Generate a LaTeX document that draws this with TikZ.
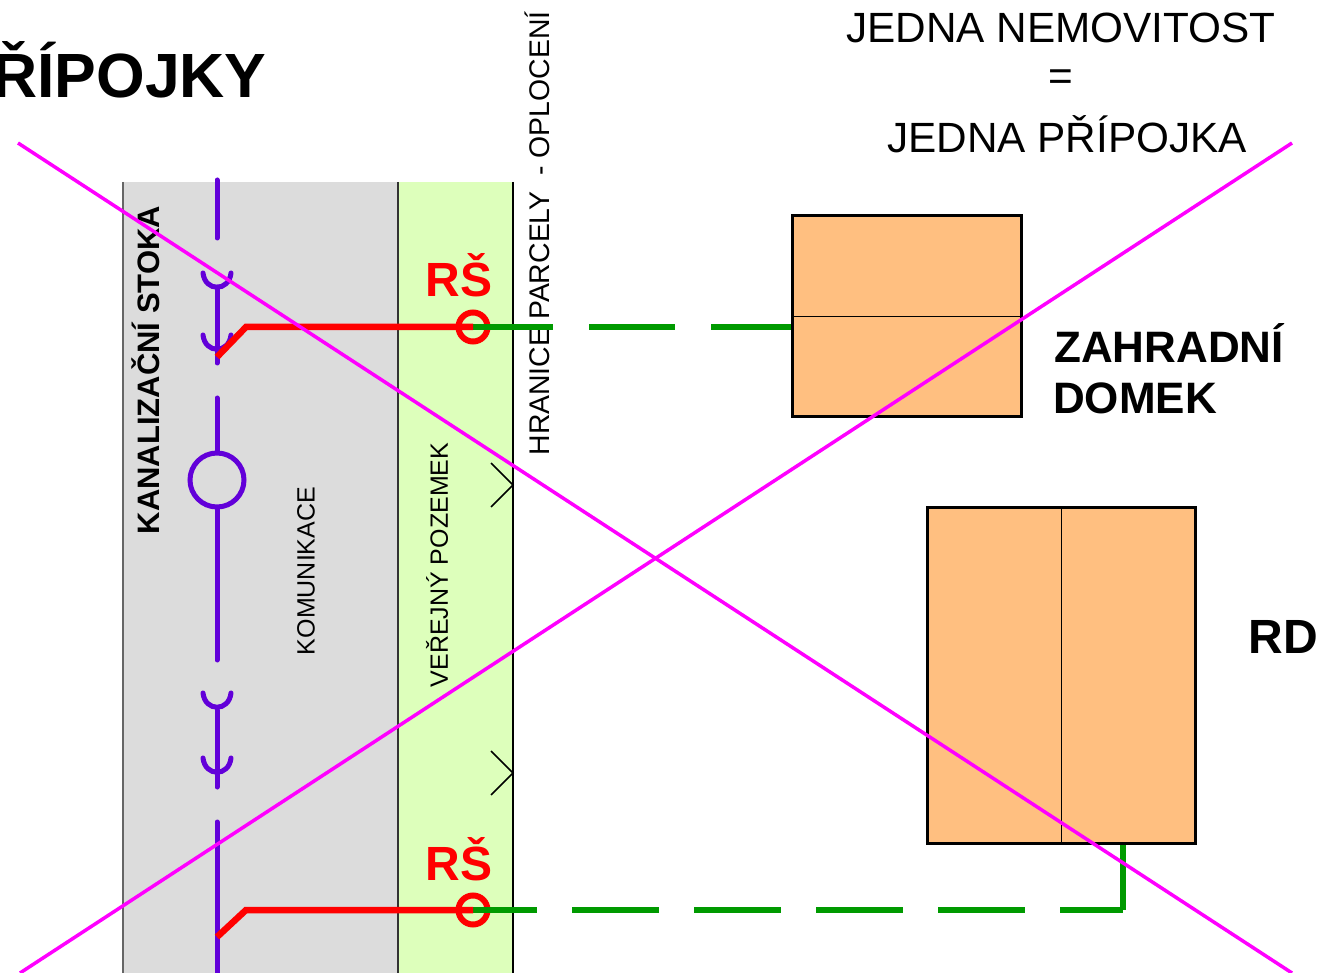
\documentclass[tikz,border=0pt]{standalone}
\usepackage{fontspec}
\setmainfont{Liberation Sans}
\usepackage{tikz}
\usetikzlibrary{positioning}
\definecolor{stokacolor}{HTML}{6200D9}
\definecolor{zelenacolor}{HTML}{DDFFBB}
\definecolor{sedacolor}{HTML}{DCDCDC}
\definecolor{domcolor}{HTML}{FFBF80}
\definecolor{pripojkacolor}{HTML}{009A00}
\definecolor{krizcolor}{HTML}{FF00FF}
\tikzset{
  stoka/.style={draw=stokacolor, line width=5pt, line cap=round},
  hrdlo/.style={draw=stokacolor, line width=5pt, line cap=round},
  cervena/.style={draw=red, line width=6.5pt},
  zelena/.style={draw=pripojkacolor, line width=6pt},
  krizek/.style={draw=krizcolor, line width=3.5pt},
  dum/.style={draw=black, line width=3pt, fill=domcolor},
  popis/.style={inner sep=0pt, text=black},
}
\begin{document}
\begin{tikzpicture}[x=1pt, y=-1pt]
    \useasboundingbox (0,0) rectangle (1318,973);
    % pasy
    \fill[sedacolor] (123,182) rectangle (398,973);
    \fill[zelenacolor] (398,182) rectangle (513,973);
    \draw[black!60, line width=1.5pt] (123,182) -- (123,973);
    \draw[black!80, line width=1.5pt] (398,182) -- (398,973);
    \draw[black, line width=2.5pt] (513,182) -- (513,973);
    % popisy
    \node[popis, font=\bfseries\fontsize{62.5}{62.5}\selectfont, anchor=west] (nadpis) at (-8,70) {ŘÍPOJKY};
    \node[popis, font=\fontsize{42.3}{42.3}\selectfont] (nemovitost) at (1061,28) {JEDNA NEMOVITOST};
    \node[popis, font=\fontsize{42.3}{42.3}\selectfont] (rovno) at (1061,80) {=};
    \node[popis, font=\fontsize{42.3}{42.3}\selectfont] (pripojka) at (1067,134) {JEDNA PŘÍPOJKA};
    \node[popis, font=\bfseries\fontsize{31}{31}\selectfont, rotate=90] (stokatext) at (146,370) {KANALIZAČNÍ STOKA};
    \node[popis, font=\fontsize{25}{25}\selectfont, rotate=90] (komunikace) at (306,571) {KOMUNIKACE};
    \node[popis, font=\fontsize{25}{25}\selectfont, rotate=90] (pozemek) at (437,565) {VEŘEJNÝ POZEMEK};
    \node[popis, font=\fontsize{28.4}{28.4}\selectfont, rotate=90] (hranice) at (537,233.5) {HRANICE PARCELY\ \ - OPLOCENÍ};
    \foreach \name/\y in {rsa/275, rsb/859} {
      \node[popis, font=\bfseries\fontsize{48}{48}\selectfont, text=red] (\name) at (459,\y) {RŠ};
    }
    \node[popis, font=\bfseries\fontsize{44}{44}\selectfont, anchor=west] (zahradni) at (1054,343) {ZAHRADNÍ};
    \node[popis, font=\bfseries\fontsize{44}{44}\selectfont, anchor=west] (domek) at (1053,398) {DOMEK};
    \node[popis, font=\bfseries\fontsize{48}{48}\selectfont] (rd) at (1283,637) {RD};
    % stoka
    \foreach \a/\b in {180/238, 287/363, 398/452, 508/660, 710/787, 822/973} {
      \draw[stoka] (217,\a) -- (217,\b);
    }
    \foreach \y in {273, 335, 693, 758} {
      \draw[hrdlo] (203,\y) .. controls (205,\y+19) and (229,\y+19) .. (231,\y);
    }
    \node[circle, draw=stokacolor, line width=5pt, minimum size=54pt, inner sep=0pt] (sachta) at (217,480) {};
    % domy
    \node[dum, anchor=north west, minimum width=229pt, minimum height=201pt, inner sep=0pt] (domekbox) at (791,214.5) {};
    \draw[black, line width=1pt] (domekbox.west) -- (domekbox.east);
    \node[dum, anchor=north west, minimum width=268pt, minimum height=335pt, inner sep=0pt] (rdbox) at (926,506.5) {};
    \draw[black, line width=1pt] (rdbox.north) -- (rdbox.south);
    % pripojky
    \node[circle, draw=red, line width=6pt, minimum size=29pt, inner sep=0pt] (sachtaa) at (473,327) {};
    \node[circle, draw=red, line width=6pt, minimum size=29pt, inner sep=0pt] (sachtab) at (473,910) {};
    \coordinate (napojrd) at (1123,910);
    \draw[zelena, dash pattern=on 80pt off 36pt on 86pt off 36pt] (sachtaa.center) -- (domekbox.west |- sachtaa.center);
    \draw[zelena, dash pattern=on 64pt off 35pt on 87pt off 35pt on 87pt off 35pt on 87pt off 35pt on 87pt off 35pt on 87pt off 35pt on 63pt off 0pt] (sachtab.center) -- (napojrd);
    \draw[zelena] (napojrd) -- (napojrd |- rdbox.south);
    \coordinate (odboca) at (217,357);
    \coordinate (odbocb) at (217,937);
    \draw[cervena] (odboca) -- (246,327) -- (sachtaa.center);
    \draw[cervena] (odbocb) -- (246,910) -- (sachtab.center);
    % oploceni
    \foreach \y in {485, 773} {
      \draw[black, line width=1.5pt] (491,\y-22) -- (513,\y) -- (491,\y+22);
    }
    % krizeni
    \coordinate (ka) at (18,143);
    \coordinate (kb) at (1292,973);
    \coordinate (kc) at (20,973);
    \coordinate (kd) at (1292,143);
    \draw[krizek] (ka) -- (kb);
    \draw[krizek] (kc) -- (kd);
\end{tikzpicture}
\end{document}
